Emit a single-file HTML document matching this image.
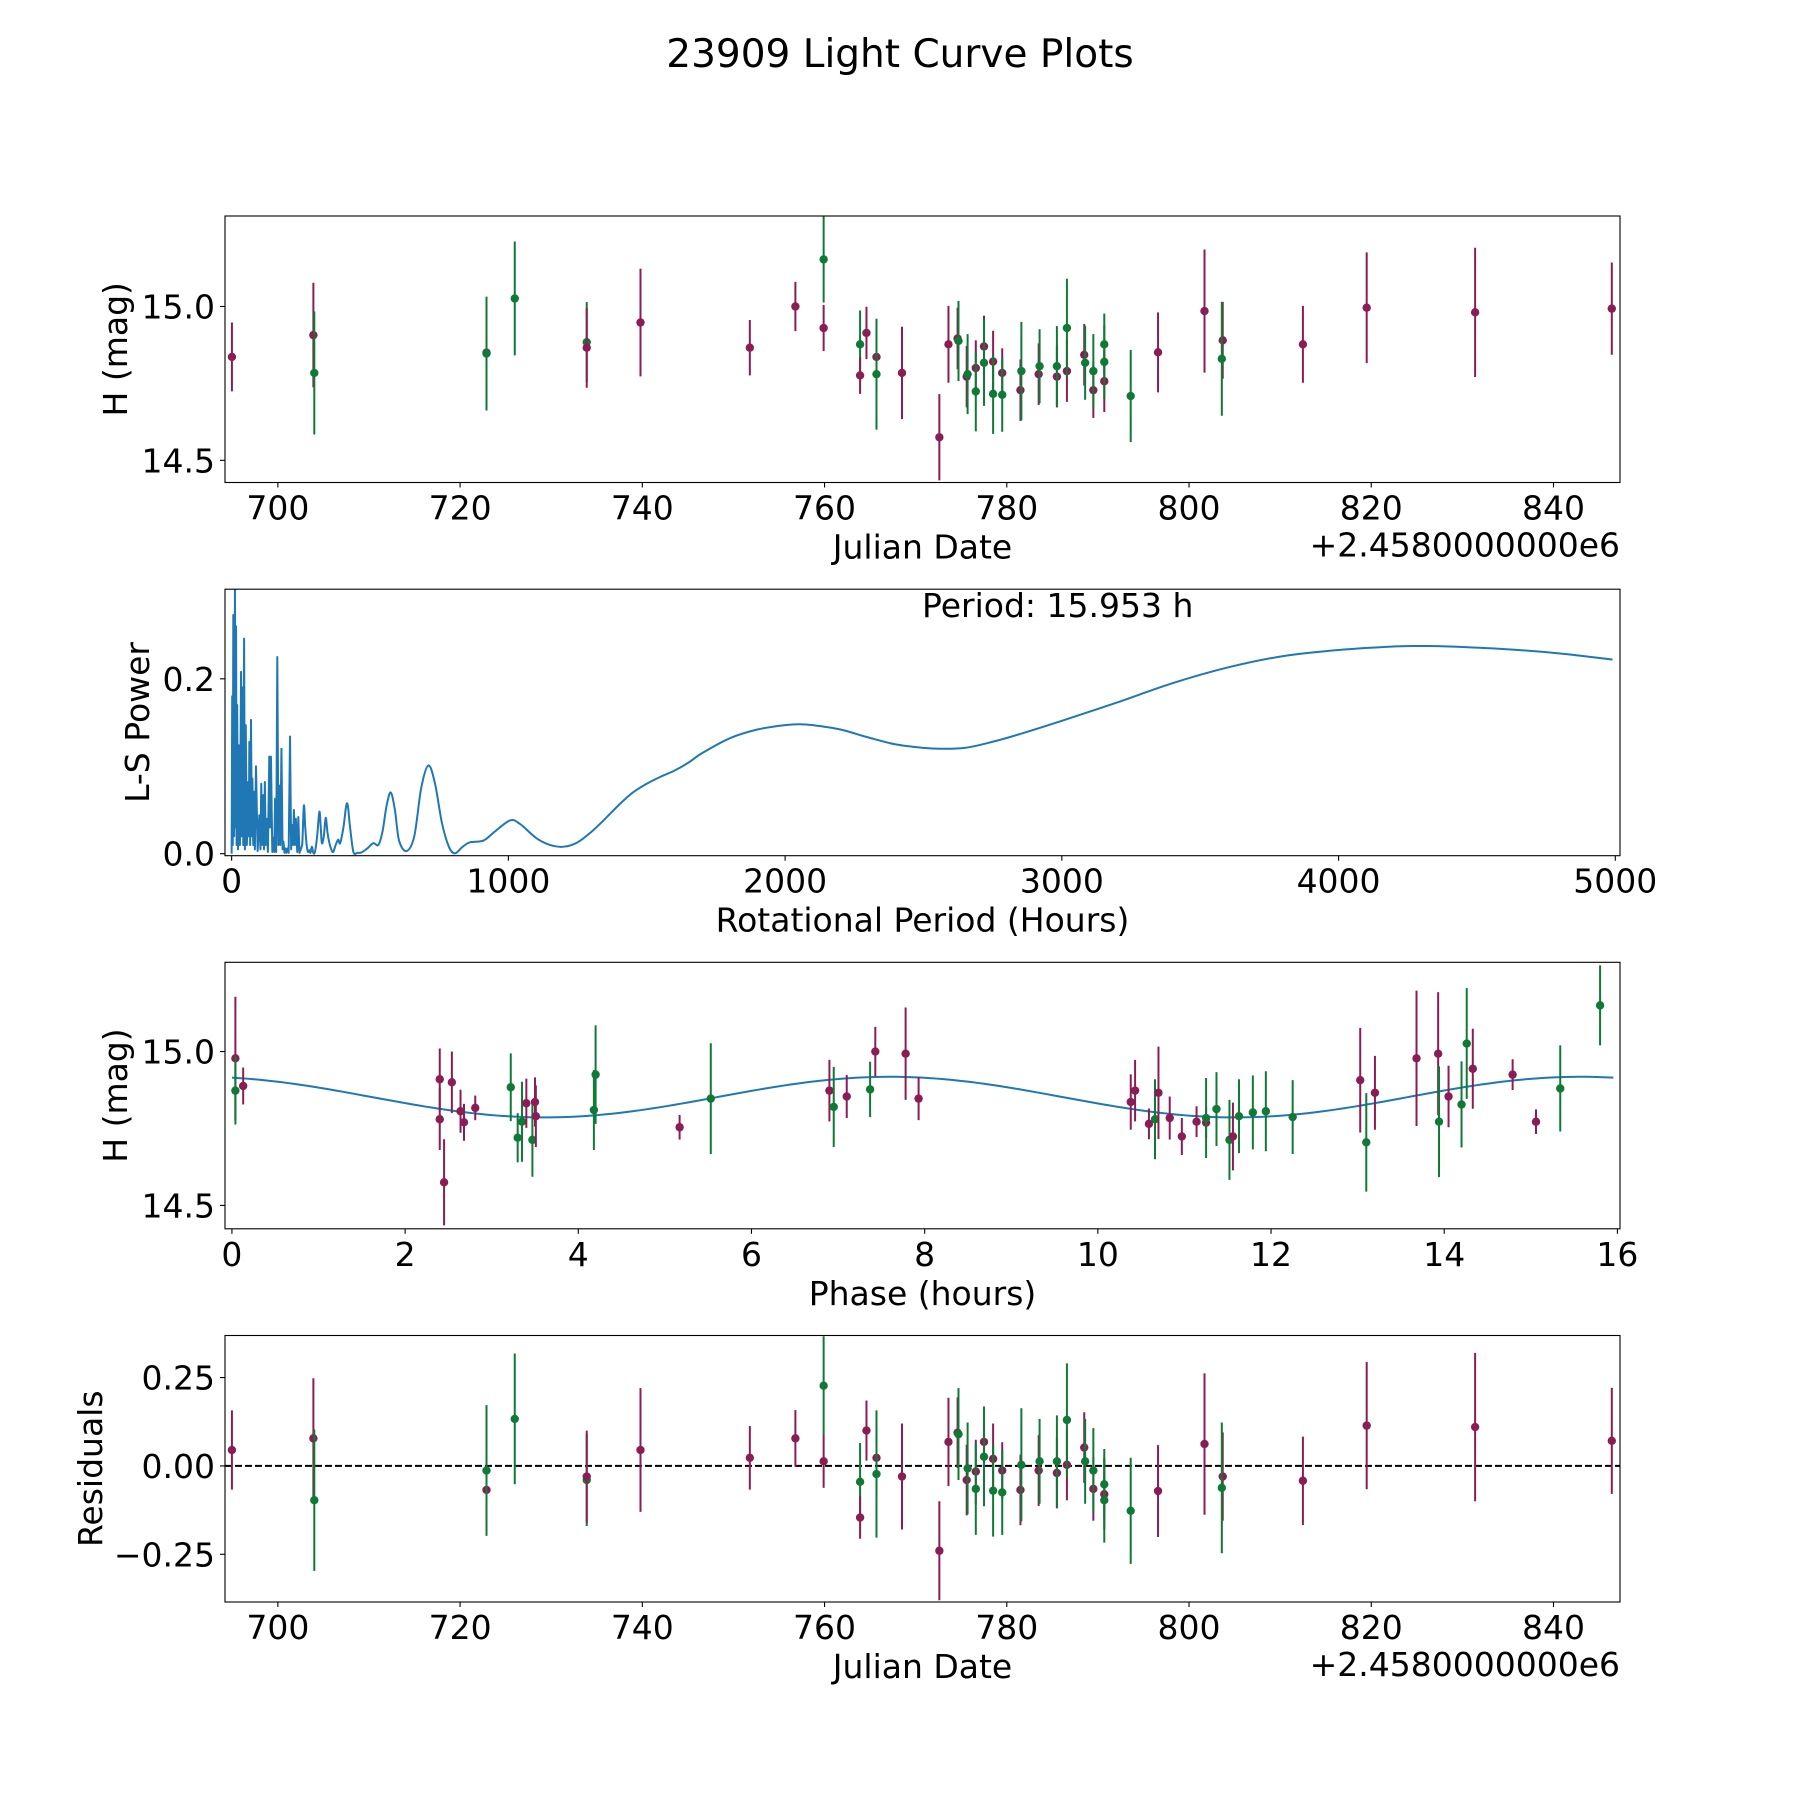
<!DOCTYPE html>
<html><head><meta charset="utf-8"><style>
html,body{margin:0;padding:0;background:#fff;}
svg{display:block;font-family:"DejaVu Sans","Liberation Sans",sans-serif;}
</style></head><body>
<svg id="fig" width="1800" height="1800" viewBox="0 0 1800 1800" xmlns="http://www.w3.org/2000/svg">
<rect x="0" y="0" width="1800" height="1800" fill="#fff"/>
<text x="900" y="67" font-size="39" text-anchor="middle" fill="#000">23909 Light Curve Plots</text>
</svg>
<script>
// ---- data: light curve (Julian date offset from 2458000) ----
const jdDays = [694.96,703.9,704.0,722.9,722.9,726.0,733.9,733.9,739.8,751.8,756.8,759.9,759.9,763.9,763.9,764.6,765.7,765.7,768.5,772.6,773.6,774.6,774.7,775.6,775.7,776.6,776.6,777.5,777.5,778.5,778.5,779.5,779.5,781.5,781.6,783.5,783.6,785.5,785.5,786.6,786.6,788.5,788.6,789.5,789.5,790.7,790.7,790.7,793.6,796.6,801.7,803.7,803.6,812.5,819.5,831.4,846.4];
const magValues = [14.836,14.907,14.784,14.85,14.847,15.026,14.884,14.866,14.948,14.866,15.0,14.93,15.153,14.877,14.776,14.914,14.836,14.78,14.784,14.575,14.877,14.896,14.888,14.772,14.78,14.80,14.724,14.87,14.817,14.821,14.716,14.784,14.713,14.728,14.79,14.78,14.806,14.772,14.806,14.79,14.93,14.843,14.817,14.728,14.79,14.757,14.877,14.82,14.709,14.851,14.985,14.89,14.83,14.877,14.996,14.981,14.993];
const magErrors = [0.112,0.17,0.2,0.1,0.185,0.185,0.13,0.13,0.175,0.09,0.08,0.075,0.14,0.11,0.06,0.085,0.1,0.18,0.15,0.14,0.125,0.1,0.13,0.1,0.13,0.09,0.13,0.1,0.14,0.1,0.13,0.08,0.12,0.1,0.16,0.1,0.12,0.1,0.13,0.1,0.16,0.1,0.12,0.09,0.12,0.1,0.1,0.12,0.15,0.13,0.2,0.125,0.185,0.125,0.18,0.21,0.15];
const bands = ["r","r","g","r","g","g","g","r","r","r","r","r","g","g","r","r","r","g","r","r","r","r","g","r","g","r","g","r","g","r","g","r","g","r","g","r","g","r","g","r","g","r","g","r","g","r","g","g","g","r","r","r","g","r","r","r","r"];
const residualValues = [0.045,0.078,-0.097,-0.068,-0.013,0.133,-0.04,-0.03,0.045,0.023,0.078,0.013,0.227,-0.045,-0.146,0.1,0.023,-0.023,-0.03,-0.24,0.068,0.094,0.09,-0.04,-0.007,-0.016,-0.065,0.068,0.026,0.02,-0.07,-0.013,-0.075,-0.068,0.003,-0.013,0.013,-0.02,0.013,0.003,0.13,0.052,0.013,-0.065,-0.013,-0.08,-0.052,-0.097,-0.127,-0.071,0.062,-0.03,-0.062,-0.042,0.114,0.11,0.071];
// ---- data: phased light curve ----
const phaseHours = [0.04,0.04,0.13,2.4,2.4,2.45,2.54,2.64,2.68,2.81,3.22,3.3,3.35,3.4,3.47,3.5,3.51,4.18,4.2,5.17,5.53,6.9,6.95,7.1,7.37,7.43,7.78,7.93,10.38,10.43,10.59,10.66,10.7,10.83,10.97,11.14,11.25,11.25,11.37,11.52,11.56,11.63,11.79,11.94,12.25,13.03,13.1,13.2,13.68,13.93,13.94,14.05,14.2,14.26,14.33,14.79,15.06,15.34,15.8];
const phaseMags = [14.978,14.873,14.888,14.91,14.78,14.575,14.9,14.806,14.77,14.817,14.884,14.72,14.772,14.832,14.713,14.836,14.79,14.81,14.925,14.754,14.847,14.873,14.82,14.854,14.877,15.0,14.993,14.847,14.836,14.873,14.765,14.78,14.866,14.784,14.724,14.772,14.769,14.784,14.813,14.713,14.724,14.79,14.802,14.806,14.787,14.907,14.705,14.866,14.978,14.993,14.772,14.854,14.828,15.026,14.944,14.925,14.772,14.88,15.15];
const phaseErrors = [0.2,0.11,0.06,0.1,0.1,0.14,0.1,0.07,0.06,0.04,0.11,0.08,0.13,0.08,0.12,0.08,0.1,0.13,0.16,0.04,0.18,0.1,0.13,0.07,0.09,0.08,0.15,0.07,0.09,0.1,0.05,0.13,0.15,0.07,0.06,0.05,0.05,0.13,0.12,0.13,0.11,0.12,0.12,0.13,0.12,0.17,0.16,0.12,0.22,0.2,0.18,0.1,0.14,0.18,0.13,0.05,0.04,0.14,0.13];
const phaseBands = ["r","g","r","r","r","r","r","r","r","r","g","g","g","r","g","r","r","g","g","r","g","r","g","r","g","r","r","r","r","r","r","g","r","r","r","r","r","g","g","g","r","g","g","g","g","r","g","r","r","r","g","r","g","g","r","r","r","g","g"];
const rotPeriod = 15.953;
const modelMean = 14.852, modelAmp = 0.066, modelPeak = 7.6;
// ---- data: Lomb-Scargle periodogram ----
const lsPeriods = [0,2,4,6,9,12,14,16,18,20,23,26,30,34,36,39,42,45,48,51,55,60,62,64,67,70,73,75,78,81,84,88,94,100,104,107,110,114,117,120,123,126,131,136,139,142,147,151,154,157,161,165,169,172,176,180,184,187,191,195,198,202,206,211,215,219,222,225,229,232,237,241,245,249,255,261,266,271,276,281,285,290,295,301,309,317,322,326,333,340,346,352,360,367,376,385,392,404,417,428,440,455,470,490,512,530,545,560,575,590,605,632,660,685,711,735,760,785,807,835,861,910,950,1006,1042,1100,1150,1200,1250,1300,1350,1400,1450,1500,1550,1600,1650,1700,1800,1900,2000,2050,2100,2200,2300,2400,2500,2560,2650,2750,2850,3000,3200,3400,3600,3800,4000,4200,4300,4400,4600,4800,4990];
const lsPower = [0.0,0.18,0.01,0.273,0.02,0.307,0.03,0.26,0.01,0.17,0.005,0.124,0.01,0.208,0.02,0.19,0.01,0.246,0.005,0.147,0.01,0.082,0.02,0.128,0.01,0.153,0.02,0.086,0.01,0.071,0.005,0.1,0.003,0.044,0.005,0.08,0.01,0.067,0.005,0.082,0.01,0.04,0.002,0.111,0.03,0.111,0.002,0.018,0.002,0.063,0.002,0.225,0.01,0.078,0.01,0.12,0.005,0.014,0.001,0.006,0.001,0.006,0.001,0.134,0.005,0.033,0.01,0.05,0.01,0.04,0.002,0.042,0.001,0.004,0.01,0.055,0.03,0.01,0.002,0.004,0.001,0.008,0.001,0.002,0.02,0.048,0.03,0.012,0.02,0.041,0.025,0.014,0.005,0.002,0.01,0.016,0.012,0.03,0.058,0.03,0.002,0.001,0.0015,0.006,0.012,0.01,0.025,0.055,0.07,0.05,0.015,0.003,0.02,0.075,0.101,0.08,0.035,0.008,0.0004,0.008,0.013,0.015,0.025,0.038,0.034,0.018,0.01,0.008,0.013,0.025,0.04,0.056,0.07,0.08,0.088,0.095,0.104,0.115,0.132,0.142,0.147,0.148,0.147,0.142,0.133,0.125,0.121,0.12,0.121,0.128,0.137,0.152,0.173,0.195,0.213,0.226,0.233,0.237,0.2375,0.237,0.234,0.229,0.222];
const jdTicks = [700,720,740,760,780,800,820,840];
const magTicks = [14.5,15.0];
const lsXTicks = [0,1000,2000,3000,4000,5000];
const lsYTicks = [0.0,0.2];
const phaseTicks = [0,2,4,6,8,10,12,14,16];
const residTicks = [-0.25,0.0,0.25];

const NS = "http://www.w3.org/2000/svg";
const svg = document.getElementById('fig');
const COL = {r:"#8b1d55", g:"#0f7a36"};
const L = 225, R = 1620, H = 266.5, FS = 33;
const tops = [216, 589.2, 962.3, 1335.5];
function mk(tag, attrs, parent){ const e=document.createElementNS(NS,tag); for(const k in attrs) e.setAttribute(k,attrs[k]); (parent||svg).appendChild(e); return e; }
function scale(d0,d1,r0,r1){ return v => r0 + (v-d0)/(d1-d0)*(r1-r0); }

function axes(i, xdom, ydom, xticks, yticks, xfmt, yfmt, xlabel, ylabel, ylabX, name){
  const top=tops[i], bot=top+H;
  const g = mk('g',{});
  
  
  const x = scale(xdom[0],xdom[1],L,R), y = scale(ydom[0],ydom[1],bot,top);
  const plot = mk('g',{'clip-path':'url(#clip'+i+')'}, g);
  
  
  const cp = mk('clipPath',{id:'clip'+i}, g); mk('rect',{x:L,y:top,width:R-L,height:H},cp);
  xticks.forEach(t=>{
    const tl = mk('line',{x1:x(t),x2:x(t),y1:bot,y2:bot+5,stroke:'#000','stroke-width':1.1}, g);
    
    
    const tx = mk('text',{x:x(t),y:bot+37,'font-size':FS,'text-anchor':'middle'}, g);
    
    
    tx.textContent = xfmt(t);
  });
  yticks.forEach(t=>{
    const tl = mk('line',{x1:L-5,x2:L,y1:y(t),y2:y(t),stroke:'#000','stroke-width':1.1}, g);
    
    
    const tx = mk('text',{x:L-10,y:y(t)+12,'font-size':FS,'text-anchor':'end'}, g);
    
    
    tx.textContent = yfmt(t);
  });
  const xl = mk('text',{x:(L+R)/2,y:bot+76,'font-size':FS,'text-anchor':'middle'}, g);
  
  
  xl.textContent = xlabel;
  const yc = top+H/2;
  const yl = mk('text',{x:ylabX,y:yc,'font-size':FS,'text-anchor':'middle',transform:`rotate(-90 ${ylabX} ${yc})`}, g);
  
  
  yl.textContent = ylabel;
  return {g, plot, x, y, top, bot};
}
function frame(a, name){
  const f = mk('rect',{x:L,y:a.top,width:R-L,height:H,fill:'none',stroke:'#000','stroke-width':1.1}, a.g);
  
  
}
function errPoints(a, xs, ys, es, bs, name){
  xs.forEach((xv,k)=>{
    const c = COL[bs[k]];
    const ln = mk('line',{x1:a.x(xv),x2:a.x(xv),y1:a.y(ys[k]-es[k]),y2:a.y(ys[k]+es[k]),stroke:c,'stroke-width':2}, a.plot);
    
    
    const dot = mk('circle',{cx:a.x(xv),cy:a.y(ys[k]),r:4.2,fill:c}, a.plot);
    
    
  });
}
const f1 = v=>v.toFixed(1), f0 = v=>String(v), f2 = v=>(v<0?'\u2212':'')+Math.abs(v).toFixed(2);

// Panel 1
const a1 = axes(0,[694.2,847.3],[14.428,15.294],jdTicks,magTicks,f0,f1,'Julian Date','H (mag)',127,'light-curve-panel');
errPoints(a1, jdDays, magValues, magErrors, bands, 'magnitude');
frame(a1,'light-curve-frame');
const off1 = mk('text',{x:R,y:a1.bot+74,'font-size':FS,'text-anchor':'end'}, a1.g);


off1.textContent = '+2.4580000000e6';

// Panel 2
const a2 = axes(1,[-24,5017],[-0.0023,0.3025],lsXTicks,lsYTicks,f0,f1,'Rotational Period (Hours)','L-S Power',149,'periodogram-panel');
const pts = lsPeriods.map((p,k)=>[a2.x(p), a2.y(lsPower[k])]);
let lsPath = 'M'+pts[0][0].toFixed(2)+' '+pts[0][1].toFixed(2);
for(let k=1;k<pts.length;k++){
  if(lsPeriods[k] <= 255){ lsPath += ' L'+pts[k][0].toFixed(2)+' '+pts[k][1].toFixed(2); continue; }
  const p0=pts[k-2]||pts[k-1], p1=pts[k-1], p2=pts[k], p3=pts[k+1]||pts[k];
  const c1=[p1[0]+(p2[0]-p0[0])/6, p1[1]+(p2[1]-p0[1])/6], c2=[p2[0]-(p3[0]-p1[0])/6, p2[1]-(p3[1]-p1[1])/6];
  lsPath += ` C${c1[0].toFixed(2)} ${c1[1].toFixed(2)} ${c2[0].toFixed(2)} ${c2[1].toFixed(2)} ${p2[0].toFixed(2)} ${p2[1].toFixed(2)}`;
}
const lsLine = mk('path',{d:lsPath,fill:'none',stroke:'#1f77b4','stroke-width':2,'stroke-linejoin':'round'}, a2.plot);


frame(a2,'periodogram-frame');
const per = mk('text',{x:922,y:617,'font-size':FS,'text-anchor':'start'}, a2.g);


per.textContent = 'Period: ' + rotPeriod.toFixed(3) + ' h';

// Panel 3
const a3 = axes(2,[-0.08,16.03],[14.424,15.29],phaseTicks,magTicks,f0,f1,'Phase (hours)','H (mag)',127,'phase-panel');
let md = '';
for(let k=0;k<=200;k++){ const ph = rotPeriod*k/200; const m = modelMean + modelAmp*Math.cos(4*Math.PI*(ph-modelPeak)/rotPeriod); md += (k?'L':'M')+a3.x(ph).toFixed(2)+' '+a3.y(m).toFixed(2)+' '; }
const ml = mk('path',{d:md,fill:'none',stroke:'#1f77b4','stroke-width':2}, a3.plot);


errPoints(a3, phaseHours, phaseMags, phaseErrors, phaseBands, 'phased-magnitude');
frame(a3,'phase-frame');

// Panel 4
const a4 = axes(3,[694.2,847.3],[-0.385,0.369],jdTicks,residTicks,f0,f2,'Julian Date','Residuals',102,'residuals-panel');
const zl = mk('line',{x1:L,x2:R,y1:a4.y(0),y2:a4.y(0),stroke:'#000','stroke-width':2,'stroke-dasharray':'7,3'}, a4.plot);


errPoints(a4, jdDays, residualValues, magErrors, bands, 'residual');
frame(a4,'residuals-frame');
const off4 = mk('text',{x:R,y:a4.bot+74,'font-size':FS,'text-anchor':'end'}, a4.g);


off4.textContent = '+2.4580000000e6';
</script>
</body></html>
